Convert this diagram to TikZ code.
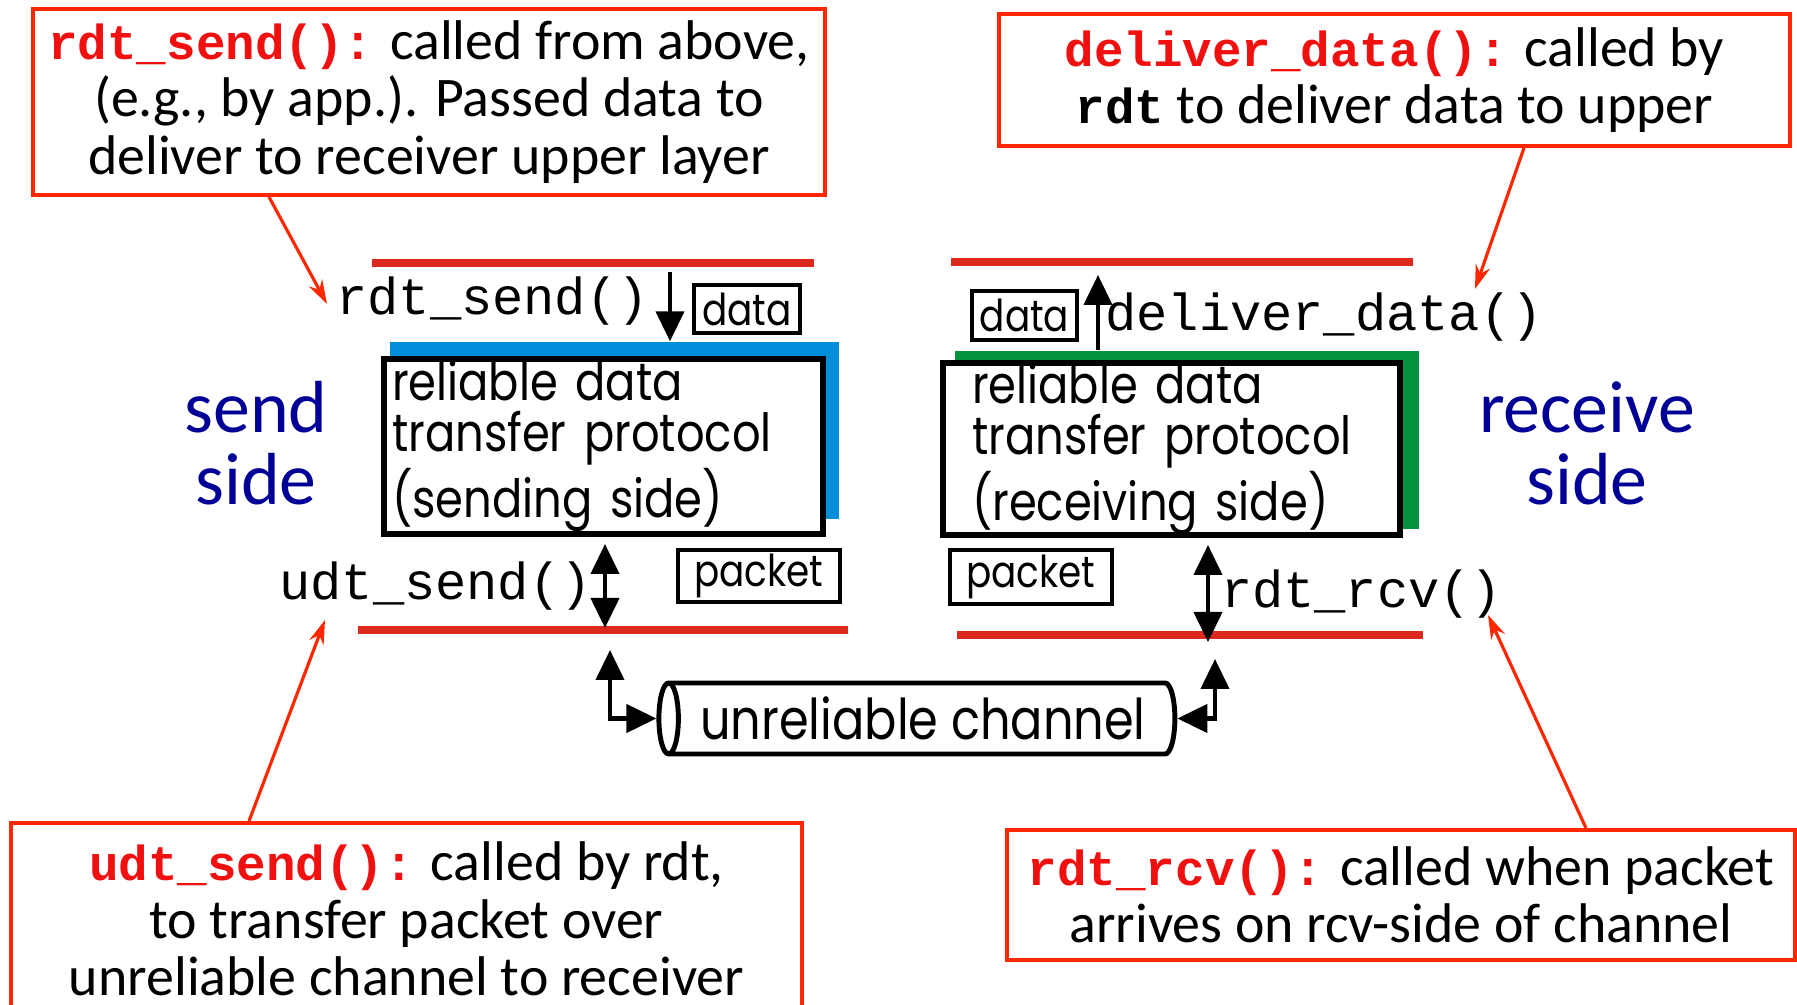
\documentclass[tikz,border=0pt]{standalone}
\usepackage{fontspec}
\setmainfont{Carlito}
\setmonofont{Liberation Mono}
\newfontfamily\protofont[FakeStretch=0.85]{Poppins}
\usetikzlibrary{arrows.meta,shapes.geometric}
\definecolor{notered}{RGB}{255,38,0}
\definecolor{layerred}{RGB}{220,41,30}
\definecolor{fnred}{RGB}{240,16,16}
\definecolor{sendblue}{RGB}{0,142,218}
\definecolor{rcvgreen}{RGB}{0,146,63}
\definecolor{sidenavy}{RGB}{0,0,150}
\def\rdtfn#1{{\ttfamily\bfseries\fontsize{14}{16.3}\selectfont\color{fnred}#1}}
\def\rdtword#1{{\ttfamily\bfseries\fontsize{14}{16.3}\selectfont#1}}
\setlength{\lineskiplimit}{-20pt}
\tikzset{
  note/.style={draw=notered, line width=1.1pt, align=center, inner sep=0pt, font=\fontsize{15.9}{16.3}\selectfont},
  noteline/.style={draw=notered, line width=0.9pt, -{Stealth[length=0.24cm,width=0.15cm]}},
  layer/.style={draw=layerred, line width=2pt},
  shadebox/.style={inner sep=0pt},
  protobox/.style={draw, fill=white, line width=1.6pt, align=left, inner ysep=0pt, font=\protofont\fontsize{15}{14.4}\selectfont},
  tagbox/.style={draw, line width=1.4pt, inner sep=0pt, font=\protofont\fontsize{12.5}{12.5}\selectfont},
  fnlabel/.style={font=\ttfamily\fontsize{14.8}{14.8}\selectfont, inner sep=0pt},
  flow/.style={line width=1.2pt, -{Triangle[length=0.3cm,width=0.28cm]}},
  flowboth/.style={line width=1.2pt, {Triangle[length=0.3cm,width=0.28cm]}-{Triangle[length=0.3cm,width=0.28cm]}},
  channel/.style={cylinder, shape border rotate=180, draw, line width=1.4pt, aspect=0.45, inner sep=0pt, font=\protofont\fontsize{16}{16}\selectfont},
  side/.style={font=\fontsize{21}{20.5}\selectfont, text=sidenavy, align=center}
}

\begin{document}
\begin{tikzpicture}
	%%%%% START %%%%%
	\useasboundingbox (0,0) rectangle (17.97,-10.05);
	
	% callouts
	\node[note, minimum width=7.92cm, minimum height=1.86cm] (sendnote) at (4.29,-1.02) {\rdtfn{rdt\_send():} called from above,\\(e.g., by app.). Passed data to\\deliver to receiver upper layer};
	\node[note, minimum width=7.91cm, minimum height=1.32cm] (delivnote) at (13.945,-0.80) {\rdtfn{deliver\_data():} called by\\\rdtword{rdt} to deliver data to upper};
	\node[note, minimum width=7.91cm, minimum height=1.92cm] (udtnote) at (4.065,-9.19) {\rdtfn{udt\_send():} called by rdt,\\to transfer packet over\\unreliable channel to receiver};
	\node[note, minimum width=7.88cm, minimum height=1.30cm] (rcvnote) at (14.01,-8.95) {\rdtfn{rdt\_rcv():} called when packet\\arrives on rcv-side of channel};
	
	% layer lines
	\draw[layer] (3.72,-2.63) -- (8.14,-2.63);
	\draw[layer] (9.51,-2.62) -- (14.13,-2.62);
	\draw[layer] (3.58,-6.30) -- (8.48,-6.30);
	\draw[layer] (9.57,-6.35) -- (14.23,-6.35);
	
	% sending side
	\node[shadebox, fill=sendblue, minimum width=4.49cm, minimum height=1.77cm] (sndshade) at (6.145,-4.305) {};
	\node[protobox, inner xsep=0.08cm, text width=4.23cm, minimum height=1.75cm] (sndbox) at (6.035,-4.465) {reliable data\\transfer protocol\\(sending side)};
	\node[tagbox, minimum width=1.06cm, minimum height=0.48cm] (snddata) at (7.47,-3.09) {data};
	\node[tagbox, minimum width=1.62cm, minimum height=0.52cm] (sndpkt) at (7.59,-5.76) {packet};
	\node[fnlabel] (rdtsend) at (4.925,-3.01) {rdt\_send()};
	\node[fnlabel] (udtsend) at (4.355,-5.86) {udt\_send()};
	\node[side] (sendside) at (2.56,-4.43) {send\\side};
	
	% receiving side
	\node[shadebox, fill=rcvgreen, minimum width=4.64cm, minimum height=1.78cm] (rcvshade) at (11.87,-4.40) {};
	\node[protobox, inner xsep=0.29cm, text width=3.99cm, minimum height=1.70cm] (rcvbox) at (11.715,-4.49) {reliable data\\transfer protocol\\(receiving side)};
	\node[tagbox, minimum width=1.05cm, minimum height=0.49cm] (rcvdata) at (10.245,-3.155) {data};
	\node[tagbox, minimum width=1.62cm, minimum height=0.54cm] (rcvpkt) at (10.31,-5.77) {packet};
	\node[fnlabel] (delivdata) at (13.24,-3.17) {deliver\_data()};
	\node[fnlabel] (rdtrcv) at (13.615,-5.94) {rdt\_rcv()};
	\node[side] (rcvside) at (15.87,-4.43) {receive\\side};
	
	% channel
	\node[channel, minimum width=0.71cm, minimum height=5.16cm] (chan) at (9.23,-7.185) {unreliable channel};
	
	% flows
	\coordinate (sdin) at (6.70,-2.72);
	\coordinate (rdout) at (10.98,-2.75);
	\coordinate (udttop) at (6.05,-5.44);
	\coordinate (udtbot) at (6.05,-6.28);
	\coordinate (rcvtop) at (12.08,-5.45);
	\coordinate (rcvbot) at (12.08,-6.42);
	\coordinate (chanin) at (6.10,-6.50);
	\coordinate (chanout) at (12.15,-6.59);
	\draw[flow] (sdin) -- (sdin |- sndshade.north);
	\draw[flow] (rdout |- rcvshade.north) -- (rdout);
	\draw[flowboth] (udttop) -- (udtbot);
	\draw[flowboth] (rcvtop) -- (rcvbot);
	\draw[flowboth] (chanin) |- (chan.west);
	\draw[flowboth] (chanout) |- (chan.east);
	
	% callout arrows
	\coordinate (sendtip) at (3.27,-3.04);
	\coordinate (delivtip) at (14.75,-2.89);
	\coordinate (udttip) at (3.25,-6.20);
	\coordinate (rcvtip) at (14.88,-6.15);
	\draw[noteline] ([xshift=-1.6cm]sendnote.south) -- (sendtip);
	\draw[noteline] ([xshift=1.295cm]delivnote.south) -- (delivtip);
	\draw[noteline] ([xshift=-1.575cm]udtnote.north) -- (udttip);
	\draw[noteline] ([xshift=1.85cm]rcvnote.north) -- (rcvtip);
	%%%%% END %%%%%
\end{tikzpicture}
\end{document}
